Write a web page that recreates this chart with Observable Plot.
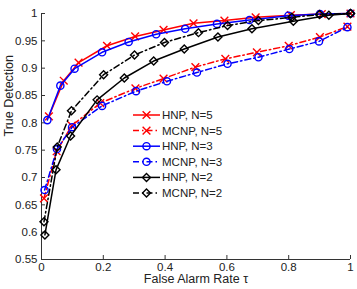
<!DOCTYPE html>
<html><head><meta charset="utf-8">
<script src="https://cdn.jsdelivr.net/npm/d3@7"></script>
<script src="https://cdn.jsdelivr.net/npm/@observablehq/plot@0.6"></script>
<style>
body{margin:0;background:#fff;}
#chart{position:relative;width:357px;height:289px;font-family:"Liberation Sans",Arial,sans-serif;}
#legend{position:absolute;left:0;top:0;pointer-events:none;}
</style>
</head><body><div id="chart"></div>
<script>
const seriesNames = ["HNP, N=5","MCNP, N=5","HNP, N=3","MCNP, N=3","HNP, N=2","MCNP, N=2"];
const hnp5X = [0.024,0.072,0.12,0.212,0.303,0.395,0.492,0.592,0.693,0.807,0.907,1];
const hnp5Y = [0.812,0.877,0.910,0.941,0.958,0.970,0.982,0.987,0.993,0.997,0.999,1];
const mcnp5X = [0.008,0.049,0.098,0.19,0.304,0.395,0.498,0.595,0.697,0.8,0.901,0.99];
const mcnp5Y = [0.662,0.748,0.795,0.836,0.863,0.881,0.902,0.917,0.929,0.941,0.957,0.976];
const hnp3X = [0.019,0.061,0.107,0.196,0.282,0.371,0.465,0.568,0.673,0.799,0.901,1];
const hnp3Y = [0.805,0.868,0.899,0.929,0.948,0.962,0.972,0.981,0.988,0.996,0.999,1];
const mcnp3X = [0.01,0.05,0.099,0.196,0.306,0.406,0.503,0.602,0.702,0.802,0.898,0.99];
const mcnp3Y = [0.677,0.752,0.792,0.831,0.858,0.876,0.892,0.908,0.92,0.935,0.949,0.975];
const hnp2X = [0.011,0.047,0.094,0.18,0.268,0.363,0.462,0.571,0.681,0.815,0.93,1];
const hnp2Y = [0.595,0.714,0.776,0.842,0.882,0.913,0.935,0.957,0.972,0.986,0.997,1];
const mcnp2X = [0.008,0.051,0.097,0.201,0.301,0.398,0.508,0.602,0.702,0.81,0.9,1];
const mcnp2Y = [0.619,0.756,0.822,0.888,0.924,0.947,0.965,0.978,0.987,0.993,0.998,1];
const xTicks = [0,0.2,0.4,0.6,0.8,1];
const yTicks = [0.55,0.6,0.65,0.7,0.75,0.8,0.85,0.9,0.95,1];
const xLabel = "False Alarm Rate τ";
const yLabel = "True Detection";

const xs = [hnp5X,mcnp5X,hnp3X,mcnp3X,hnp2X,mcnp2X];
const ys = [hnp5Y,mcnp5Y,hnp3Y,mcnp3Y,hnp2Y,mcnp2Y];
const styles = [
  {stroke:"#ff0000", dash:null, symbol:"times"},
  {stroke:"#ff0000", dash:"6,3,1.5,3", symbol:"times"},
  {stroke:"#0000ff", dash:null, symbol:"circle"},
  {stroke:"#0000ff", dash:"6,3,1.5,3", symbol:"circle"},
  {stroke:"#000000", dash:null, symbol:"diamond2"},
  {stroke:"#000000", dash:"6,3,1.5,3", symbol:"diamond2"}
];
const series = seriesNames.map((name,k)=>({name, data: xs[k].map((x,i)=>({series:name,x,y:ys[k][i]})), ...styles[k]}));

const marks = [];
for (const s of series) {
  marks.push(Plot.line(s.data,{x:"x",y:"y",stroke:s.stroke,strokeWidth:1.5,strokeDasharray:s.dash}));
  marks.push(Plot.dot(s.data,{x:"x",y:"y",stroke:s.stroke,fill:"none",symbol:s.symbol,r:3.6,strokeWidth:1.4}));
}

const plot = Plot.plot({
  width:357, height:289,
  marginLeft:41, marginRight:7, marginTop:13, marginBottom:30,
  style:{fontFamily:"'Liberation Sans',Arial,sans-serif",fontSize:"11.5px",background:"#fff",color:"#000"},
  x:{domain:[0,1]},
  y:{domain:[0.55,1]},
  marks:[
    Plot.axisX(xTicks,{tickSize:-4,tickPadding:7,tickFormat:d=>String(d),label:null,fontSize:11.5,stroke:"#333",fill:"#222"}),
    Plot.axisY(yTicks,{tickSize:-4,tickPadding:8,tickFormat:d=>String(d),label:null,fontSize:11.5,stroke:"#333",fill:"#222"}),
    Plot.ruleX([0],{stroke:"#333",strokeWidth:1}),
    Plot.ruleY([0.55],{stroke:"#333",strokeWidth:1}),
    Plot.text([xLabel],{frameAnchor:"bottom",dy:23,fontSize:12.5,fill:"#222"}),
    Plot.text([yLabel],{frameAnchor:"left",dx:-33,rotate:-90,fontSize:12.5,fill:"#222"}),
    ...marks
  ]
});
const chart = document.getElementById("chart");
chart.appendChild(plot);

// legend overlay
const lg = d3.select(chart).append("svg").attr("id","legend").attr("width",357).attr("height",289);
const lx0 = 133, lx1 = 160, ly0 = 115, ldy = 15.6;
series.forEach((s,i)=>{
  const y = ly0 + i*ldy;
  lg.append("line").attr("x1",lx0).attr("x2",lx1).attr("y1",y).attr("y2",y)
    .attr("stroke",s.stroke).attr("stroke-width",1.5).attr("stroke-dasharray",s.dash);
  const sym = {times:d3.symbolTimes,circle:d3.symbolCircle,diamond2:d3.symbolDiamond2}[s.symbol];
  lg.append("path").attr("d",d3.symbol(sym, Math.PI*3.6*3.6)()).attr("transform",`translate(${(lx0+lx1)/2},${y})`)
    .attr("fill","none").attr("stroke",s.stroke).attr("stroke-width",1.4);
  lg.append("text").attr("x",162).attr("y",y).attr("dy","0.35em").attr("font-size",11.5)
    .attr("font-family","'Liberation Sans',Arial,sans-serif").attr("fill","#222").text(s.name);
});
</script>
</body></html>
